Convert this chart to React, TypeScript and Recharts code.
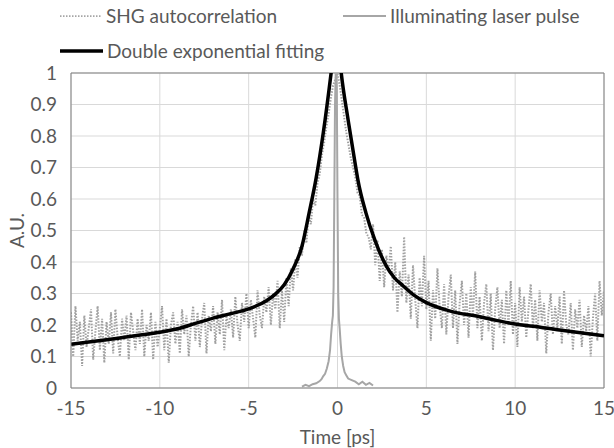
import {
  LineChart,
  Line,
  XAxis,
  YAxis,
  CartesianGrid,
  ReferenceLine,
} from "recharts";

const FONT = "Lato, 'Liberation Sans', sans-serif";
const TEXT = "#595959";

const xTicks = [-15, -10, -5, 0, 5, 10, 15];
const yTicks = [0, 0.1, 0.2, 0.3, 0.4, 0.5, 0.6, 0.7, 0.8, 0.9, 1];

// SHG autocorrelation, sampled every 0.125 ps from -15 ps
const shgStart = -15;
const shgStep = 0.125;
const shgValues = [
  0.24, 0.1, 0.26, 0.15, 0.21, 0.07, 0.23, 0.13,
  0.19, 0.25, 0.09, 0.18, 0.26, 0.12, 0.22, 0.08,
  0.21, 0.14, 0.24, 0.11, 0.25, 0.16, 0.1, 0.22,
  0.15, 0.23, 0.09, 0.24, 0.18, 0.12, 0.22, 0.14,
  0.25, 0.1, 0.2, 0.15, 0.24, 0.09, 0.21, 0.13,
  0.19, 0.26, 0.12, 0.22, 0.08, 0.2, 0.24, 0.14,
  0.21, 0.11, 0.25, 0.17, 0.23, 0.1, 0.2, 0.26,
  0.15, 0.24, 0.13, 0.22, 0.27, 0.11, 0.23, 0.18,
  0.26, 0.14, 0.24, 0.17, 0.28, 0.12, 0.23, 0.19,
  0.25, 0.16, 0.29, 0.2, 0.15, 0.27, 0.21, 0.3,
  0.19, 0.28, 0.22, 0.16, 0.31, 0.23, 0.19, 0.29,
  0.24, 0.32, 0.2, 0.3, 0.25, 0.34, 0.19, 0.31,
  0.21, 0.35, 0.26, 0.38, 0.31, 0.41, 0.35, 0.45,
  0.42, 0.5, 0.46, 0.55, 0.52, 0.6, 0.58, 0.65,
  0.68, 0.74, 0.78, 0.83, 0.87, 0.92, 0.96, 0.98,
  1.0, 0.96, 0.91, 0.86, 0.81, 0.77, 0.73, 0.7,
  0.67, 0.62, 0.61, 0.55, 0.54, 0.49, 0.48, 0.44,
  0.52, 0.39, 0.47, 0.34, 0.44, 0.32, 0.42, 0.37,
  0.45, 0.31, 0.4, 0.24, 0.37, 0.29, 0.48, 0.27,
  0.36, 0.22, 0.39, 0.28, 0.19, 0.35, 0.26, 0.42,
  0.25, 0.34, 0.15, 0.31, 0.22, 0.38, 0.26, 0.19,
  0.33, 0.17, 0.29, 0.36, 0.19, 0.31, 0.14, 0.27,
  0.34, 0.2, 0.3, 0.16, 0.32, 0.23, 0.37, 0.19,
  0.29, 0.15, 0.27, 0.33, 0.18, 0.3, 0.12, 0.25,
  0.32, 0.19, 0.28, 0.14, 0.31, 0.2, 0.34, 0.17,
  0.27, 0.13, 0.32, 0.21, 0.29, 0.16, 0.25, 0.33,
  0.19, 0.28, 0.15, 0.31, 0.21, 0.27, 0.11, 0.24,
  0.3, 0.17, 0.26, 0.19, 0.29, 0.14, 0.31, 0.2,
  0.17, 0.27, 0.12, 0.25, 0.19, 0.28, 0.13, 0.23,
  0.18, 0.26, 0.1, 0.22, 0.3, 0.15, 0.34, 0.23,
  0.31,
];

// illuminating laser pulse
const laserTime = [
  -2.0, -1.8, -1.6, -1.4, -1.2, -1.0, -0.9, -0.8, -0.7, -0.6, -0.5, -0.42,
  -0.36, -0.3, -0.26, -0.22, -0.18, -0.14, -0.1, -0.07, -0.04, 0.0, 0.04,
  0.08, 0.12, 0.18, 0.24, 0.32, 0.4, 0.5, 0.6, 0.8, 1.0, 1.2, 1.4, 1.6, 1.8,
  2.0,
];
const laserValues = [
  0.004, 0.01, 0.006, 0.012, 0.015, 0.022, 0.028, 0.038, 0.045, 0.062, 0.085,
  0.12, 0.17, 0.21, 0.23, 0.32, 0.6, 0.9, 1.0, 1.0, 0.95, 0.6, 0.3, 0.22,
  0.19, 0.14, 0.1, 0.07, 0.05, 0.04, 0.03, 0.025, 0.02, 0.012, 0.02, 0.01,
  0.016, 0.008,
];

// double exponential fitting
const fitTime = [
  -15, -14, -13, -12, -11, -10, -9, -8, -7, -6, -5, -4, -3.5, -3, -2.5, -2,
  -1.6, -1.2, -0.8, -0.36, -0.05, 0.21, 0.6, 1.0, 1.15, 1.6, 2.1, 2.75, 3.2,
  3.7, 4.3, 5, 6.3, 8, 9, 10, 11, 12.5, 14, 15,
];
const fitValues = [
  0.139, 0.146, 0.153, 0.161, 0.169, 0.177, 0.188, 0.205, 0.222, 0.236, 0.251,
  0.277, 0.298, 0.328, 0.378, 0.45, 0.555, 0.667, 0.81, 1.0, 1.15, 1.0, 0.85,
  0.71, 0.66, 0.556, 0.47, 0.387, 0.35, 0.324, 0.295, 0.271, 0.245, 0.226,
  0.214, 0.203, 0.196, 0.184, 0.173, 0.166,
];

const shgData = shgValues.map((v, i) => ({ t: shgStart + i * shgStep, v }));
const laserData = laserTime.map((t, i) => ({ t, v: laserValues[i] }));
const fitData = fitTime.map((t, i) => ({ t, v: fitValues[i] }));

const tickStyle = { fill: TEXT, fontSize: 19, fontFamily: FONT };

function LegendOverlay() {
  const item = (left: number, top: number, sample: JSX.Element, label: string) => (
    <div
      style={{
        position: "absolute",
        left,
        top,
        display: "flex",
        alignItems: "center",
        fontFamily: FONT,
        fontSize: 19,
        color: TEXT,
        whiteSpace: "nowrap",
      }}
    >
      {sample}
      <span style={{ marginLeft: 4 }}>{label}</span>
    </div>
  );
  return (
    <>
      {item(
        60,
        4,
        <svg width={42} height={6}>
          <line x1={0} y1={3} x2={42} y2={3} stroke="#a6a6a6" strokeWidth={1.75} strokeDasharray="1.5 1.5" />
        </svg>,
        "SHG autocorrelation"
      )}
      {item(
        343,
        4,
        <svg width={43} height={6}>
          <line x1={0} y1={3} x2={43} y2={3} stroke="#a6a6a6" strokeWidth={2} />
        </svg>,
        "Illuminating laser pulse"
      )}
      {item(
        60,
        39,
        <svg width={43} height={6}>
          <line x1={0} y1={3} x2={43} y2={3} stroke="#000" strokeWidth={3.5} />
        </svg>,
        "Double exponential fitting"
      )}
    </>
  );
}

export default function App() {
  return (
    <div style={{ position: "absolute", left: 0, top: 0, width: 614, height: 448, background: "#fff" }}>
      <LineChart
        width={614}
        height={448}
        margin={{ top: 73, right: 10, bottom: 0, left: 0 }}
      >
        <CartesianGrid stroke="#d9d9d9" />
        <XAxis
          type="number"
          dataKey="t"
          domain={[-15, 15]}
          ticks={xTicks}
          allowDataOverflow
          tickLine={false}
          tickSize={0}
          tickMargin={14}
          height={60}
          axisLine={{ stroke: "#808080" }}
          tick={tickStyle}
          label={{
            value: "Time [ps]",
            position: "insideBottom",
            offset: 4,
            style: { fill: TEXT, fontSize: 19, fontFamily: FONT },
          }}
        />
        <YAxis
          type="number"
          domain={[0, 1]}
          ticks={yTicks}
          allowDataOverflow
          tickLine={false}
          tickSize={0}
          tickMargin={14}
          width={71}
          axisLine={{ stroke: "#808080" }}
          tick={tickStyle}
          label={{
            content: ({ viewBox }: any) => (
              <text
                x={16}
                y={viewBox.y + viewBox.height / 2}
                transform={`rotate(-90 16 ${viewBox.y + viewBox.height / 2})`}
                textAnchor="middle"
                dominantBaseline="central"
                fill={TEXT}
                fontSize={19}
                fontFamily={FONT}
              >
                A.U.
              </text>
            ),
          }}
        />
        <ReferenceLine y={1} stroke="#808080" />
        <ReferenceLine x={15} stroke="#808080" />
        <Line
          data={shgData}
          dataKey="v"
          type="linear"
          stroke="#a0a0a0"
          strokeWidth={2}
          strokeDasharray="1.5 1.5"
          dot={false}
          isAnimationActive={false}
        />
        <Line
          data={laserData}
          dataKey="v"
          type="linear"
          stroke="#a6a6a6"
          strokeWidth={2}
          dot={false}
          isAnimationActive={false}
        />
        <Line
          data={fitData}
          dataKey="v"
          type="monotone"
          stroke="#000"
          strokeWidth={3.5}
          dot={false}
          isAnimationActive={false}
        />
      </LineChart>
      <LegendOverlay />
    </div>
  );
}
